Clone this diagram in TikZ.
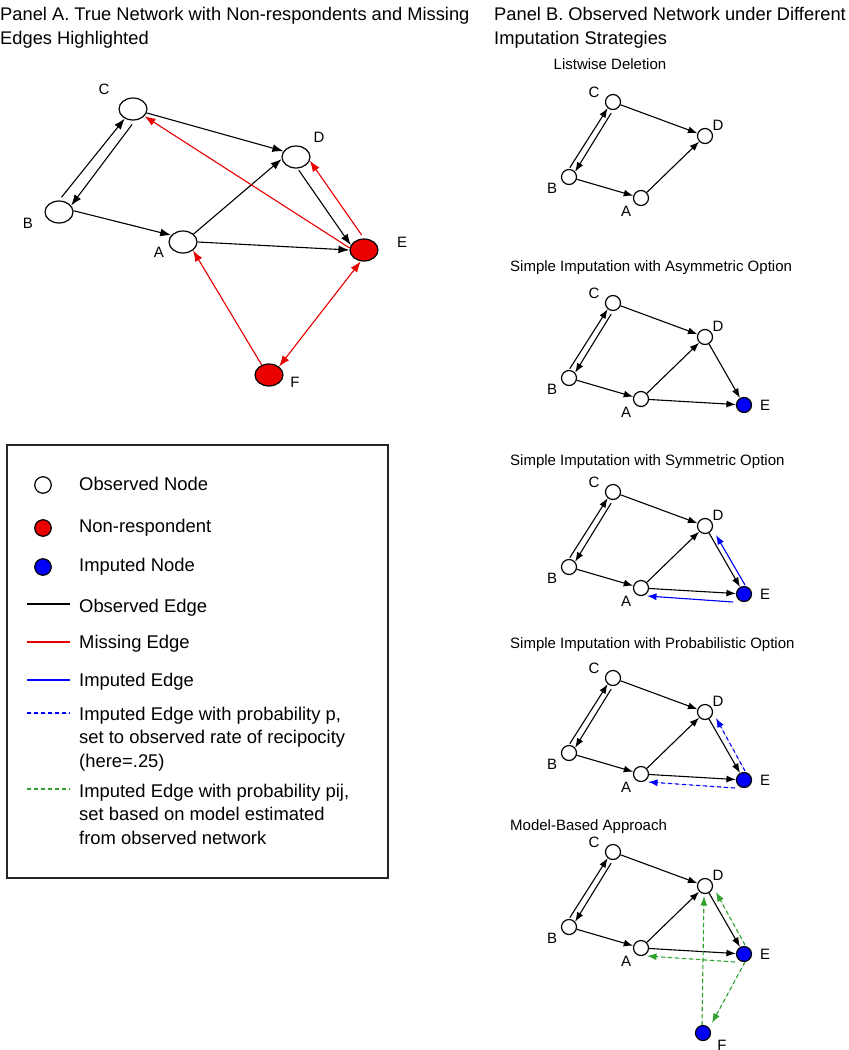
\documentclass[tikz,border=0pt]{standalone}
\usepackage{fontspec}
\setmainfont{Liberation Sans}
\usetikzlibrary{arrows.meta,calc,shapes.geometric}
\definecolor{nrred}{RGB}{235,0,0}
\definecolor{impblue}{RGB}{0,0,250}
\definecolor{impgreen}{RGB}{45,160,45}
\newcommand\netbase{%
  \node[bnode] (C) at (613,0) {};
  \node[bnode] (D) at (705,34) {};
  \node[bnode] (B) at (569,75) {};
  \node[bnode] (A) at (641,96) {};
  \node[lbl] (lC) at (594,-10) {C};
  \node[lbl] (lD) at (718,23) {D};
  \node[lbl] (lB) at (552,86) {B};
  \node[lbl] (lA) at (626,109) {A};
  \draw[bedge, shorten <=1.5pt] (B.90) -- (C.229);
  \draw[bedge, shorten <=3.5pt] (C.270) -- (B.41);
  \draw[bedge] (C) -- (D);
  \draw[bedge] (B) -- (A);
  \draw[bedge] (A) -- (D);
}
\newcommand\netE{%
  \node[bimp] (E) at (744,102) {};
  \node[lbl] (lE) at (765,102) {E};
  \draw[bedge] (D) -- (E);
  \draw[bedge] (A) -- (E);
}
\begin{document}
\begin{tikzpicture}[x=1pt,y=-1pt,
  anode/.style={draw=black, line width=1.2pt, ellipse, minimum width=28pt, minimum height=22pt, inner sep=0pt, fill=white},
  anr/.style={anode, fill=nrred},
  bnode/.style={draw=black, line width=1.2pt, circle, minimum size=15pt, inner sep=0pt, fill=white},
  bimp/.style={bnode, fill=impblue},
  lgnode/.style={draw=black, line width=1.2pt, circle, minimum size=16.5pt, inner sep=0pt},
  lbl/.style={font=\fontsize{15}{17}\selectfont, inner sep=0pt},
  title/.style={font=\fontsize{18.3}{23.6}\selectfont, inner sep=0pt, anchor=base west, align=left},
  sub/.style={font=\fontsize{15}{18}\selectfont, inner sep=0pt, anchor=base west},
  lgtext/.style={font=\fontsize{18.4}{23.5}\selectfont, inner sep=0pt, anchor=base west, align=left},
  aedge/.style={line width=1.1pt, -{Latex[length=11pt,width=8pt]}},
  aboth/.style={line width=1.1pt, {Latex[length=11pt,width=8pt]}-{Latex[length=11pt,width=8pt]}},
  bedge/.style={line width=1.1pt, -{Latex[length=9.5pt,width=7pt]}},
  lgline/.style={line width=1.5pt},
  miss/.style={draw=nrred, fill=nrred},
  impl/.style={draw=impblue, fill=impblue},
  impdash/.style={draw=impblue, fill=impblue, dash pattern=on 4pt off 3pt},
  mdash/.style={draw=impgreen, fill=impgreen, dash pattern=on 4pt off 3pt},
]
\useasboundingbox (0,0) rectangle (849,1050);

% ---------- titles
\node[title] (tA) at (0,44.3) {Panel A. True Network with Non-respondents and Missing\\Edges Highlighted};
\node[title] (tB) at (494,44.3) {Panel B. Observed Network under Different\\Imputation Strategies};

% ---------- Panel A
\node[anode] (C) at (133,109) {};
\node[anode] (D) at (296,157) {};
\node[anode] (B) at (59,212) {};
\node[anode] (A) at (183,242) {};
\node[anr] (E) at (364,250) {};
\node[anr] (F) at (269,375) {};
\node[lbl] (lC) at (104,89) {C};
\node[lbl] (lD) at (319,137) {D};
\node[lbl] (lB) at (28,223) {B};
\node[lbl] (lA) at (159,252) {A};
\node[lbl] (lE) at (402,242) {E};
\node[lbl] (lF) at (295,382) {F};

\draw[aedge, shorten <=4pt] (B.90) -- (C.229);
\draw[aedge, shorten <=5pt] (C.280) -- (B.28);
\draw[aedge] (C.344) -- (D.155);
\draw[aedge] (B.5) -- (A.150);
\draw[aedge] (A.37) -- (D.188);
\draw[aedge] (A.0) -- (E.180);
\draw[aedge, shorten <=2pt] (D.278) -- (E.160);
\draw[aedge, miss, shorten <=4pt] (E.90) -- (D.345);
\draw[aedge, miss] (E.172) -- (C.328);
\draw[aedge, miss] (F.126) -- (A.320);
\draw[aboth, miss] (E.254) -- (F.40);

% ---------- Legend
\draw[line width=1.2pt, black!85] (7,445) rectangle (388,878);
\node[lgnode, fill=white] (lg1) at (43,485) {};
\node[lgtext] (lt1) at (79,490) {Observed Node};
\node[lgnode, fill=nrred] (lg2) at (43,528) {};
\node[lgtext] (lt2) at (79,532.5) {Non-respondent};
\node[lgnode, fill=impblue] (lg3) at (43,567) {};
\node[lgtext] (lt3) at (79,571) {Imputed Node};
\coordinate (l4a) at (27,604); \coordinate (l4b) at (70,604);
\draw[lgline] (l4a) -- (l4b);
\node[lgtext] (lt4) at (79,612) {Observed Edge};
\coordinate (l5a) at (27,642); \coordinate (l5b) at (70,642);
\draw[lgline, miss] (l5a) -- (l5b);
\node[lgtext] (lt5) at (79,648) {Missing Edge};
\coordinate (l6a) at (27,680); \coordinate (l6b) at (70,680);
\draw[lgline, impl] (l6a) -- (l6b);
\node[lgtext] (lt6) at (79,686) {Imputed Edge};
\coordinate (l7a) at (27,713); \coordinate (l7b) at (70,713);
\draw[lgline, impdash] (l7a) -- (l7b);
\node[lgtext] (lt7) at (79,767) {Imputed Edge with probability p,\\set to observed rate of recipocity\\(here=.25)};
\coordinate (l8a) at (27,789); \coordinate (l8b) at (70,789);
\draw[lgline, mdash] (l8a) -- (l8b);
\node[lgtext] (lt8) at (79,844) {Imputed Edge with probability pij,\\set based on model estimated\\from observed network};

% ---------- Panel B subtitles
\node[sub, anchor=base] (s1) at (610,69) {Listwise Deletion};
\node[sub] (s2) at (510,271.5) {Simple Imputation with Asymmetric Option};
\node[sub] (s3) at (510,465) {Simple Imputation with Symmetric Option};
\node[sub] (s4) at (510,648) {Simple Imputation with Probabilistic Option};
\node[sub] (s5) at (510,830) {Model-Based Approach};

% Listwise
\begin{scope}[shift={(0,102)}, name prefix=L-]
  \netbase
\end{scope}
% Asymmetric
\begin{scope}[shift={(0,303)}, name prefix=AS-]
  \netbase
  \netE
\end{scope}
% Symmetric
\begin{scope}[shift={(0,492)}, name prefix=SY-]
  \netbase
  \netE
  \draw[bedge, impl] ($(E)+(1,-9)$) -- ($(D)+(11,9)$);
  \draw[bedge, impl] ($(E)+(-11,8)$) -- ($(A)+(6,8)$);
\end{scope}
% Probabilistic
\begin{scope}[shift={(0,678)}, name prefix=PR-]
  \netbase
  \netE
  \draw[bedge, impdash] ($(E)+(1,-9)$) -- ($(D)+(11,6)$);
  \draw[bedge, impdash] ($(E)+(-9,8)$) -- ($(A)+(7,8)$);
\end{scope}
% Model-based
\begin{scope}[shift={(0,852)}, name prefix=MB-]
  \netbase
  \netE
  \node[bimp] (F) at (703,181) {};
  \node[lbl] (lF) at (722,193) {F};
  \draw[bedge, mdash] ($(E)+(1,-9)$) -- ($(D)+(11,6)$);
  \draw[bedge, mdash] ($(E)+(-9,8)$) -- ($(A)+(6,8)$);
  \draw[bedge, mdash] ($(F)+(-1,-8)$) -- ($(D)+(-1,10)$);
  \draw[bedge, mdash] ($(E)+(1,8)$) -- ($(F)+(9,-10)$);
\end{scope}
\end{tikzpicture}
\end{document}
